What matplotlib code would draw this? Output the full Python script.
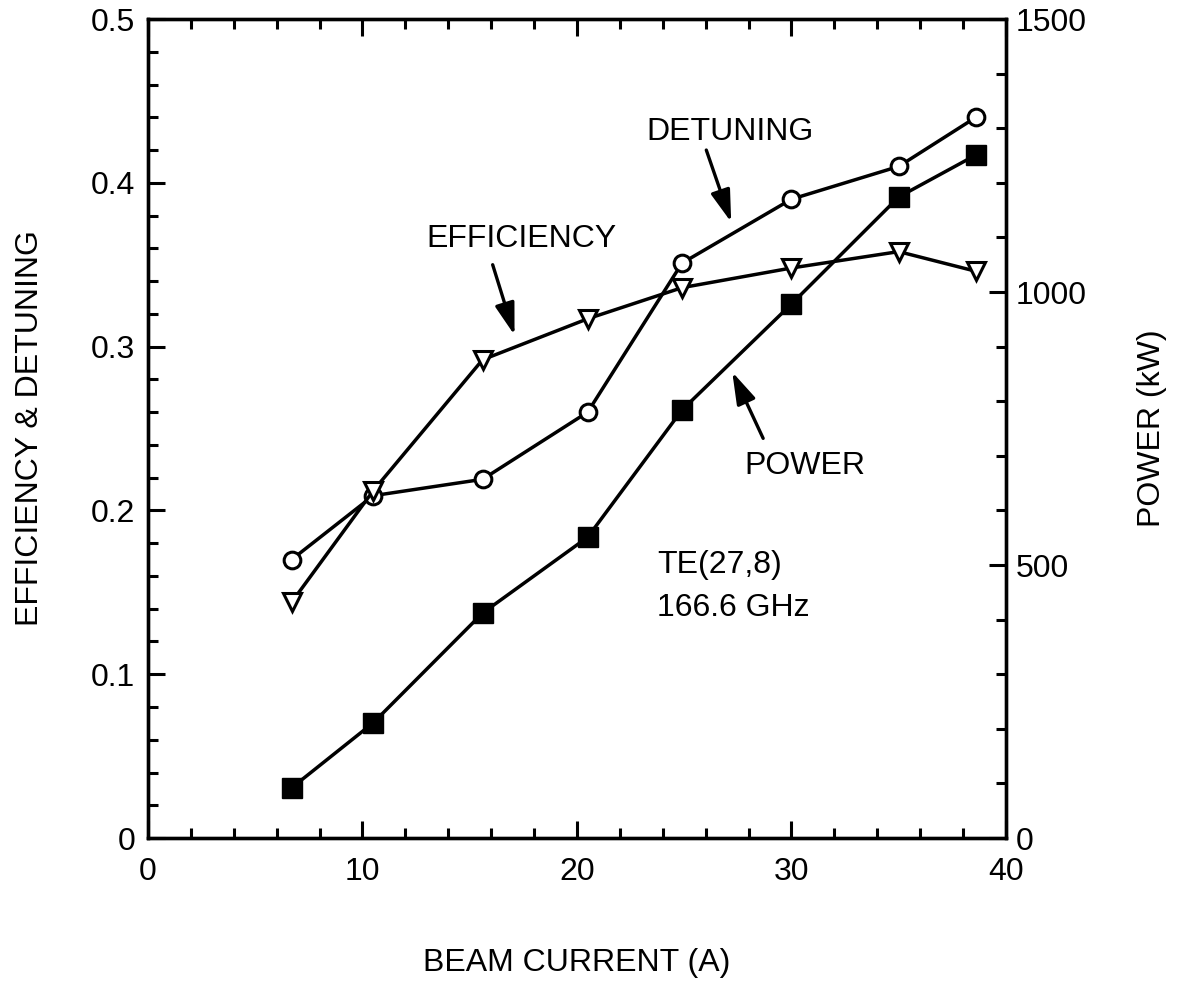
import matplotlib
matplotlib.use("Agg")
import matplotlib.pyplot as plt
from matplotlib.ticker import MultipleLocator

plt.rcParams['font.family'] = ['Liberation Sans', 'DejaVu Sans']

# Data
beam_current = [6.7, 10.5, 15.6, 20.5, 24.9, 30.0, 35.0, 38.6]
detuning = [0.170, 0.209, 0.219, 0.260, 0.351, 0.390, 0.410, 0.440]
efficiency = [0.144, 0.212, 0.292, 0.317, 0.336, 0.348, 0.358, 0.346]
power_kw = [92, 211, 412, 551, 784, 978, 1174, 1251]

FS = 23
fig = plt.figure(figsize=(11.8, 9.85), dpi=100)
ax = fig.add_axes([0.1254, 0.1492, 0.7271, 0.8315])
ax2 = ax.twinx()

lw = 2.5
ax.plot(beam_current, detuning, color='black', lw=lw, marker='o', ms=12,
        mfc='white', mec='black', mew=2.2, zorder=3)
ax.plot(beam_current, efficiency, color='black', lw=lw, marker='v', ms=13,
        mfc='white', mec='black', mew=2.2, zorder=3)
ax2.plot(beam_current, power_kw, color='black', lw=lw, marker='s', ms=14,
         mfc='black', mec='black', zorder=3)

ax.set_xlim(0, 40)
ax.set_ylim(0, 0.5)
ax2.set_ylim(0, 1500)

ax.xaxis.set_major_locator(MultipleLocator(10))
ax.xaxis.set_minor_locator(MultipleLocator(2))
ax.yaxis.set_major_locator(MultipleLocator(0.1))
ax.yaxis.set_minor_locator(MultipleLocator(0.02))
ax2.yaxis.set_major_locator(MultipleLocator(500))
ax2.yaxis.set_minor_locator(MultipleLocator(100))

ax.yaxis.set_major_formatter(plt.FuncFormatter(lambda v, p: '0' if abs(v) < 1e-9 else f'{v:.1f}'))

for a in (ax, ax2):
    for s in a.spines.values():
        s.set_linewidth(2.4)
ax.tick_params(which='both', direction='in', top=True, right=False, width=2.2)
ax.tick_params(which='major', length=12)
ax.tick_params(which='minor', length=7)
ax.tick_params(axis='x', which='major', labelsize=FS, pad=14)
ax.tick_params(axis='y', which='major', labelsize=FS, pad=9)
ax2.tick_params(which='both', direction='in', width=2.2)
ax2.tick_params(which='major', length=12, labelsize=FS, pad=7)
ax2.tick_params(which='minor', length=7)

ax.set_xlabel('BEAM CURRENT (A)', fontsize=FS, va='center')
ax.xaxis.set_label_coords(0.5, -0.1526)
ax.set_ylabel('EFFICIENCY & DETUNING', fontsize=FS, va='center')
ax.yaxis.set_label_coords(-0.138, 0.5)
ax2.set_ylabel('POWER (kW)', fontsize=FS, va='center', rotation=90)
ax2.yaxis.set_label_coords(1.17, 0.5)

arrow = dict(arrowstyle='-|>,head_length=0.65,head_width=0.2', mutation_scale=30,
             lw=2.4, color='black', shrinkA=0, shrinkB=0)

ax.text(27.15, 0.431, 'DETUNING', fontsize=FS, ha='center', va='center')
ax.annotate('', xy=(27.19, 0.376), xytext=(26.03, 0.420), arrowprops=arrow)

ax.text(17.42, 0.366, 'EFFICIENCY', fontsize=FS, ha='center', va='center')
ax.annotate('', xy=(17.09, 0.307), xytext=(16.07, 0.350), arrowprops=arrow)

ax.text(30.64, 0.227, 'POWER', fontsize=FS, ha='center', va='center')
ax.annotate('', xy=(27.24, 0.2845), xytext=(28.68, 0.244), arrowprops=arrow)

ax.text(23.75, 0.1667, 'TE(27,8)', fontsize=FS, ha='left', va='center')
ax.text(23.75, 0.1404, '166.6 GHz', fontsize=FS, ha='left', va='center')

fig.savefig('out.png', dpi=100)
